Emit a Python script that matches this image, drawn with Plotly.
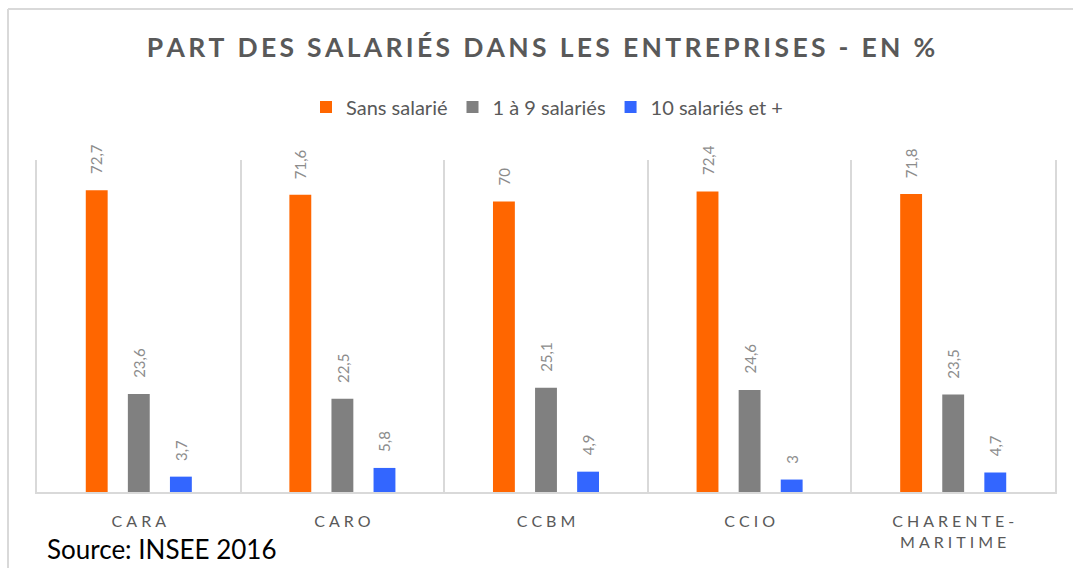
import plotly.graph_objects as go

# Territories and share of companies by number of employees (%)
categories = ["CARA", "CARO", "CCBM", "CCIO", "CHARENTE-MARITIME"]
tick_labels = ["CARA", "CARO", "CCBM", "CCIO", "CHARENTE-<br>MARITIME"]
series_names = ["Sans salarié", "1 à 9 salariés", "10 salariés et +"]
sans_salarie = [72.7, 71.6, 70.0, 72.4, 71.8]
un_a_neuf = [23.6, 22.5, 25.1, 24.6, 23.5]
dix_et_plus = [3.7, 5.8, 4.9, 3.0, 4.7]
source_note = "Source: INSEE 2016"
title_text = "PART DES SALARIÉS DANS LES ENTREPRISES - EN %"

colors = ["#FF6600", "#808080", "#3366FF"]
series_values = [sans_salarie, un_a_neuf, dix_et_plus]

W, H = 1073, 568
M_L, M_R, M_T, M_B = 37, 18, 160, 76
PLOT_W = W - M_L - M_R
PLOT_H = H - M_T - M_B
GRID = "#d9d9d9"


def spaced(s, sep="\u200a"):
    # widen letter spacing by inserting thin spaces between glyphs
    out = []
    for part in s.split("<br>"):
        out.append(sep.join(list(part)))
    return "<br>".join(out)


def fmt(v):
    txt = f"{v:.1f}".replace(".", ",")
    if txt.endswith(",0"):
        txt = txt[:-2]
    return txt


fig = go.Figure()
for name, vals, col in zip(series_names, series_values, colors):
    fig.add_trace(go.Bar(
        x=categories, y=vals, name=name,
        marker=dict(color=col, line=dict(width=0)),
        hoverinfo="skip",
    ))

# value labels, rotated, above each bar
bargap = 0.38
cat_w = PLOT_W / len(categories)
slot = cat_w * (1 - bargap) / len(series_names)
annotations = []
for i, (vals, col) in enumerate(zip(series_values, colors)):
    shift = (i - 1) * slot
    for c, v in zip(categories, vals):
        annotations.append(dict(
            x=c, y=v, xref="x", yref="y", text=fmt(v), showarrow=False,
            textangle=-90, xanchor="center", yanchor="bottom",
            xshift=shift, yshift=14,
            font=dict(family="Lato", size=15, color="#8c8c8c"),
        ))

annotations.append(dict(
    x=(45 - M_L) / PLOT_W, y=(M_T + PLOT_H - 549) / PLOT_H,
    xref="paper", yref="paper", text=source_note, showarrow=False,
    xanchor="left", yanchor="middle",
    font=dict(family="Lato", size=26, color="#000000"),
))

# chart frame (left and top edges)
shapes = [
    dict(type="line", xref="paper", yref="paper",
         x0=(8 - M_L) / PLOT_W, x1=(8 - M_L) / PLOT_W,
         y0=(M_T + PLOT_H - 9) / PLOT_H, y1=-1,
         line=dict(color=GRID, width=2)),
    dict(type="line", xref="paper", yref="paper",
         x0=(8 - M_L) / PLOT_W, x1=1.2,
         y0=(M_T + PLOT_H - 9) / PLOT_H, y1=(M_T + PLOT_H - 9) / PLOT_H,
         line=dict(color=GRID, width=2)),
]

fig.update_layout(
    width=W, height=H,
    margin=dict(l=M_L, r=M_R, t=M_T, b=M_B),
    paper_bgcolor="white", plot_bgcolor="white",
    barmode="group", bargap=bargap, bargroupgap=0.48,
    title=dict(
        text=spaced(title_text, "\u2009"), x=(541 / W), xref="container",
        y=1 - 48 / H, yref="container", xanchor="center", yanchor="middle",
        font=dict(family="Lato", size=26.5, color="#595959", weight="bold"),
    ),
    legend=dict(
        orientation="h", x=(547 - M_L) / PLOT_W, xanchor="center",
        y=(M_T + PLOT_H - 107) / PLOT_H, yanchor="middle",
        font=dict(family="Lato", size=20, color="#595959"),
        itemwidth=30, traceorder="normal",
    ),
    xaxis=dict(
        tickmode="array", tickvals=categories,
        ticktext=[spaced(t, "\u2009\u2009") for t in tick_labels],
        tickson="boundaries", ticks="", showgrid=True,
        gridcolor=GRID, gridwidth=2,
        showline=True, linecolor=GRID, linewidth=2,
        ticklabelstandoff=14,
        tickfont=dict(family="Lato", size=16, color="#595959"),
        fixedrange=True,
    ),
    yaxis=dict(range=[0, 80], showticklabels=False, ticks="",
               showgrid=False, zeroline=False,
               showline=True, mirror=True, linecolor=GRID, linewidth=2,
               fixedrange=True),
    annotations=annotations,
    shapes=shapes,
    showlegend=True,
)

fig.write_html("out.html")
